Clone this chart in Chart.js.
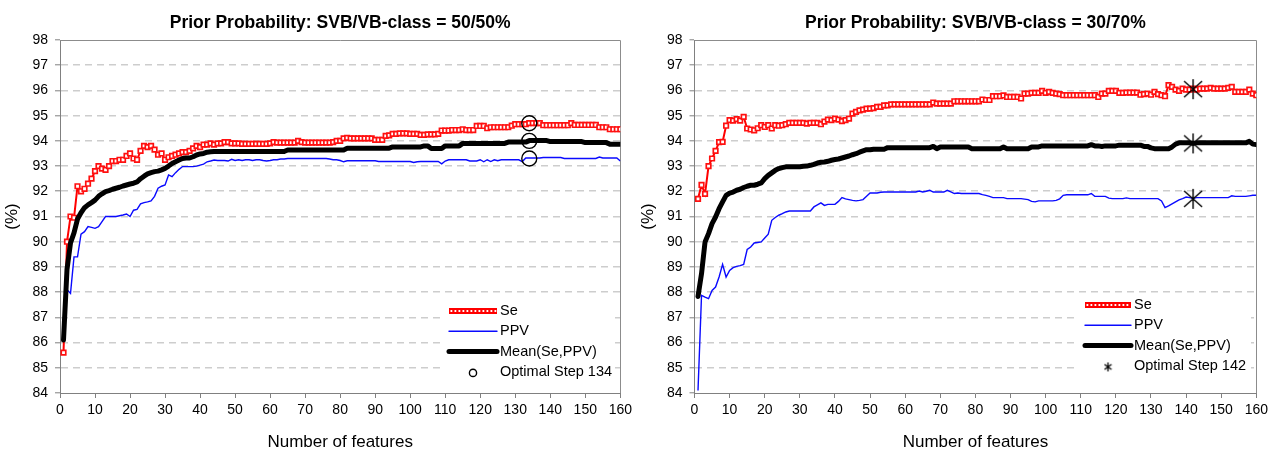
<!DOCTYPE html>
<html><head><meta charset="utf-8">
<script src="https://cdn.jsdelivr.net/npm/chart.js@4/dist/chart.umd.min.js"></script>
<style>
html,body{margin:0;padding:0;background:#fff;}
#wrap{position:relative;width:1272px;height:451px;overflow:hidden;background:#fff;}
.box{position:absolute;top:0;width:636px;height:451px;}
canvas{display:block;}
</style></head><body>
<div id="wrap">
<div class="box" style="left:0"><canvas id="c1" width="636" height="451"></canvas></div>
<div class="box" style="left:636px"><canvas id="c2" width="636" height="451"></canvas></div>
</div>
<script>
// ---------- DATA ----------
const titleL = 'Prior Probability: SVB/VB-class = 50/50%';
const titleR = 'Prior Probability: SVB/VB-class = 30/70%';
const xTitle = 'Number of features';
const yTitle = '(%)';
const seriesNames = ['Se', 'PPV', 'Mean(Se,PPV)'];

// x categories: number of features 1..160
const features = Array.from({length: 160}, (_, i) => i + 1);

const seL = [
85.6,90.0,91.0,90.95,92.2,92.0,92.1,92.3,92.5,92.8,
93.0,92.9,92.85,93.0,93.2,93.2,93.25,93.25,93.4,93.5,
93.3,93.25,93.6,93.8,93.75,93.8,93.65,93.45,93.5,93.25,
93.35,93.4,93.45,93.5,93.55,93.55,93.6,93.7,93.8,93.75,
93.85,93.85,93.9,93.85,93.9,93.9,93.95,93.95,93.9,93.9,
93.9,93.88,93.88,93.88,93.88,93.88,93.88,93.88,93.88,93.9,
93.95,93.93,93.93,93.93,93.93,93.93,93.93,94.0,93.95,93.93,
93.93,93.93,93.93,93.93,93.93,93.93,93.93,93.95,94.0,94.0,
94.1,94.12,94.1,94.1,94.1,94.1,94.1,94.1,94.1,94.04,
94.04,94.04,94.2,94.22,94.28,94.28,94.3,94.3,94.3,94.28,
94.28,94.28,94.24,94.24,94.26,94.26,94.26,94.28,94.41,94.41,
94.41,94.43,94.43,94.43,94.46,94.43,94.43,94.43,94.59,94.59,
94.59,94.5,94.54,94.54,94.54,94.54,94.54,94.54,94.6,94.66,
94.66,94.66,94.66,94.7,94.7,94.7,94.7,94.62,94.62,94.62,
94.62,94.62,94.62,94.62,94.62,94.7,94.63,94.63,94.63,94.63,
94.63,94.63,94.63,94.54,94.54,94.54,94.46,94.46,94.46,94.46];

const ppvL = [
86.6,88.1,87.95,89.4,89.4,90.3,90.4,90.6,90.57,90.53,
90.6,90.8,91.0,91.0,91.0,91.0,91.03,91.06,91.1,91.0,
91.25,91.28,91.5,91.55,91.58,91.62,91.8,92.12,92.2,92.25,
92.65,92.58,92.74,92.87,92.98,92.98,92.98,92.98,93.0,93.04,
93.08,93.17,93.2,93.24,93.22,93.22,93.22,93.2,93.27,93.22,
93.25,93.22,93.25,93.25,93.22,93.25,93.25,93.22,93.2,93.22,
93.25,93.25,93.28,93.28,93.3,93.3,93.3,93.3,93.3,93.3,
93.3,93.3,93.3,93.3,93.3,93.3,93.28,93.25,93.25,93.22,
93.17,93.21,93.21,93.21,93.21,93.21,93.21,93.21,93.21,93.21,
93.18,93.18,93.18,93.18,93.18,93.18,93.18,93.18,93.18,93.18,
93.14,93.17,93.18,93.18,93.18,93.18,93.18,93.18,93.09,93.2,
93.25,93.25,93.25,93.25,93.25,93.25,93.2,93.2,93.2,93.25,
93.17,93.25,93.18,93.25,93.21,93.25,93.25,93.25,93.25,93.25,
93.25,93.18,93.32,93.32,93.32,93.32,93.32,93.34,93.34,93.34,
93.34,93.34,93.34,93.3,93.3,93.3,93.3,93.3,93.3,93.3,
93.3,93.3,93.3,93.36,93.32,93.32,93.32,93.32,93.32,93.2];

const meanL = [
86.1,88.9,89.95,90.35,90.9,91.15,91.35,91.46,91.55,91.65,
91.8,91.9,91.99,92.03,92.08,92.12,92.16,92.21,92.25,92.29,
92.32,92.37,92.5,92.6,92.69,92.74,92.78,92.8,92.85,92.91,
93.0,93.1,93.17,93.24,93.3,93.32,93.32,93.37,93.44,93.48,
93.5,93.55,93.57,93.58,93.58,93.58,93.58,93.58,93.58,93.58,
93.58,93.58,93.58,93.58,93.58,93.58,93.58,93.58,93.58,93.58,
93.58,93.58,93.58,93.58,93.64,93.64,93.64,93.64,93.64,93.64,
93.64,93.64,93.64,93.64,93.64,93.64,93.64,93.64,93.64,93.64,
93.64,93.71,93.71,93.71,93.71,93.71,93.71,93.71,93.71,93.71,
93.71,93.71,93.71,93.71,93.76,93.76,93.76,93.76,93.76,93.76,
93.76,93.76,93.76,93.8,93.8,93.7,93.7,93.7,93.7,93.8,
93.8,93.8,93.8,93.8,93.9,93.9,93.9,93.9,93.9,93.9,
93.9,93.9,93.9,93.9,93.9,93.9,93.9,93.95,93.95,93.95,
93.95,93.95,93.95,94.01,94.01,94.01,94.01,94.01,94.01,93.97,
93.97,93.97,93.97,93.97,93.97,93.97,93.97,93.97,93.97,93.93,
93.93,93.93,93.93,93.93,93.93,93.93,93.87,93.87,93.87,93.87];

const optStepL = 134;
const optL = [94.7, 94.0, 93.3];

const seR = [
91.7,92.25,91.9,93.0,93.3,93.6,93.95,93.96,94.6,94.82,
94.8,94.86,94.8,94.95,94.49,94.45,94.42,94.5,94.62,94.55,
94.62,94.49,94.62,94.6,94.62,94.66,94.71,94.71,94.71,94.71,
94.71,94.68,94.71,94.71,94.71,94.66,94.76,94.84,94.82,94.88,
94.84,94.78,94.82,94.88,95.08,95.15,95.21,95.24,95.28,95.28,
95.3,95.35,95.35,95.41,95.41,95.45,95.45,95.45,95.45,95.45,
95.45,95.45,95.45,95.45,95.45,95.45,95.45,95.52,95.48,95.48,
95.48,95.48,95.48,95.57,95.57,95.57,95.57,95.57,95.57,95.57,
95.57,95.64,95.62,95.62,95.77,95.77,95.77,95.8,95.74,95.74,
95.74,95.74,95.68,95.87,95.87,95.9,95.9,95.9,95.98,95.9,
95.94,95.9,95.87,95.85,95.81,95.81,95.81,95.81,95.81,95.81,
95.81,95.81,95.81,95.81,95.74,95.87,95.87,95.98,95.98,95.98,
95.9,95.9,95.91,95.91,95.91,95.91,95.83,95.85,95.87,95.83,
95.94,95.85,95.81,95.77,96.21,96.14,96.03,95.98,96.07,96.03,
96.03,96.07,96.03,96.07,96.07,96.07,96.1,96.07,96.07,96.07,
96.07,96.1,96.14,95.94,95.94,95.94,95.94,96.03,95.87,95.81];

const ppvR = [
84.1,87.87,87.8,87.74,88.07,88.2,88.6,89.1,88.6,88.86,
88.97,89.02,89.05,89.1,89.69,89.79,89.95,89.97,89.99,90.15,
90.3,90.85,90.96,91.05,91.11,91.18,91.22,91.22,91.22,91.22,
91.22,91.22,91.22,91.38,91.46,91.54,91.44,91.48,91.48,91.48,
91.6,91.75,91.7,91.67,91.64,91.62,91.64,91.67,91.8,91.93,
91.93,91.93,91.96,91.97,91.97,91.97,91.97,91.97,91.97,91.97,
91.97,91.97,91.97,92.01,91.97,92.0,92.04,91.97,91.97,91.97,
91.97,92.04,91.98,91.91,91.93,91.91,91.91,91.91,91.91,91.91,
91.91,91.87,91.84,91.8,91.75,91.75,91.75,91.75,91.71,91.71,
91.71,91.71,91.71,91.69,91.67,91.6,91.58,91.62,91.62,91.62,
91.62,91.62,91.64,91.7,91.84,91.86,91.86,91.86,91.86,91.86,
91.86,91.86,91.91,91.8,91.8,91.8,91.8,91.73,91.71,91.71,
91.71,91.71,91.74,91.71,91.71,91.71,91.71,91.71,91.71,91.71,
91.71,91.71,91.62,91.35,91.42,91.5,91.58,91.66,91.71,91.77,
91.75,91.72,91.75,91.75,91.75,91.75,91.75,91.75,91.75,91.75,
91.75,91.75,91.82,91.8,91.8,91.8,91.8,91.82,91.84,91.84];

const meanR = [
87.83,88.73,89.99,90.32,90.72,90.98,91.31,91.58,91.84,91.93,
91.97,92.04,92.08,92.15,92.2,92.24,92.24,92.28,92.33,92.5,
92.63,92.73,92.83,92.9,92.94,92.97,92.97,92.97,92.97,92.97,
92.99,93.0,93.03,93.07,93.12,93.15,93.16,93.19,93.23,93.26,
93.28,93.32,93.36,93.4,93.45,93.49,93.55,93.6,93.65,93.65,
93.67,93.67,93.67,93.67,93.73,93.73,93.73,93.73,93.73,93.73,
93.73,93.73,93.73,93.73,93.73,93.73,93.73,93.78,93.69,93.76,
93.76,93.76,93.76,93.76,93.76,93.76,93.76,93.76,93.69,93.69,
93.69,93.69,93.69,93.69,93.69,93.69,93.69,93.76,93.69,93.69,
93.69,93.69,93.69,93.69,93.69,93.76,93.76,93.76,93.8,93.8,
93.8,93.8,93.8,93.8,93.8,93.8,93.8,93.8,93.8,93.8,
93.8,93.8,93.85,93.8,93.8,93.78,93.8,93.8,93.8,93.8,
93.83,93.83,93.83,93.83,93.83,93.83,93.83,93.78,93.78,93.72,
93.69,93.69,93.69,93.69,93.69,93.76,93.87,93.92,93.92,93.92,
93.92,93.9,93.92,93.92,93.92,93.92,93.92,93.92,93.92,93.92,
93.92,93.92,93.92,93.92,93.92,93.92,93.92,93.98,93.87,93.85];

const optStepR = 142;
const optR = [96.05, 93.9, 91.7];

// ---------- DRAWING ----------
Chart.defaults.font.family = "'Liberation Sans', Arial, sans-serif";
Chart.defaults.color = '#000';

function toXY(arr){ return arr.map((v, i) => ({x: features[i], y: v})); }

function makeAsterisk(w, h, lw){
  const c = document.createElement('canvas');
  c.width = w; c.height = h;
  const g = c.getContext('2d');
  g.strokeStyle = '#000'; g.lineWidth = lw;
  const mx = w/2, my = h/2;
  g.beginPath();
  g.moveTo(mx, 1); g.lineTo(mx, h-1);
  g.moveTo(1, my - (h/2 - 3)); g.lineTo(w-1, my + (h/2 - 3));
  g.moveTo(1, my + (h/2 - 3)); g.lineTo(w-1, my - (h/2 - 3));
  g.stroke();
  return c;
}
const asteriskBig = makeAsterisk(20, 22, 1.4);
const asteriskSmall = makeAsterisk(9, 11, 1.3);

const framePlugin = {
  id: 'frame',
  beforeDatasetsDraw(chart){
    const {ctx, chartArea: a} = chart;
    ctx.save();
    ctx.strokeStyle = '#8c8c8c'; ctx.lineWidth = 1;
    ctx.beginPath();
    ctx.moveTo(a.left, Math.round(a.top) + 0.5);
    ctx.lineTo(Math.round(a.right) + 0.5, Math.round(a.top) + 0.5);
    ctx.lineTo(Math.round(a.right) + 0.5, a.bottom);
    ctx.stroke();
    ctx.restore();
  }
};

const insideLegend = {
  id: 'insideLegend',
  afterDatasetsDraw(chart, args, o){
    const ctx = chart.ctx;
    const a = chart.chartArea;
    ctx.save();
    ctx.fillStyle = '#fff';
    ctx.fillRect(o.boxX, o.boxY, o.boxW, a.bottom - o.boxY - 1);
    const ds = chart.data.datasets;
    ctx.font = '14.5px "Liberation Sans", Arial, sans-serif';
    ctx.textBaseline = 'middle';
    ds.forEach((d, i) => {
      const y = o.y0 + i * o.dy;
      if (d.legendKind === 'se') {
        ctx.fillStyle = '#ff0000';
        ctx.fillRect(o.x1, y - 3, o.x2 - o.x1, 6);
        ctx.fillStyle = '#fff';
        for (let x = o.x1 + 1.5; x < o.x2 - 2; x += 4) ctx.fillRect(x, y - 1, 1.8, 2);
      } else if (d.legendKind === 'line') {
        ctx.strokeStyle = d.borderColor; ctx.lineWidth = d.borderWidth;
        ctx.lineCap = 'round';
        ctx.beginPath(); ctx.moveTo(o.x1, y); ctx.lineTo(o.x2, y); ctx.stroke();
      } else if (d.legendKind === 'circle') {
        ctx.strokeStyle = '#000'; ctx.lineWidth = 1.4;
        ctx.beginPath(); ctx.arc(o.mx, y + 1, 3.6, 0, Math.PI * 2); ctx.stroke();
      } else if (d.legendKind === 'asterisk') {
        ctx.drawImage(asteriskSmall, o.mx - 4.5, y - 4.5);
      }
      ctx.fillStyle = '#000';
      ctx.fillText(d.label, o.tx, y);
    });
    ctx.restore();
  }
};

function buildChart(id, c){
  const datasets = [
    {label: seriesNames[0], legendKind: 'se', data: toXY(c.se), borderColor: '#ff0000', borderWidth: 2,
     pointStyle: 'rect', pointRadius: 3.2, pointBorderWidth: 1.7, pointBorderColor: '#ff1010',
     pointBackgroundColor: '#ffffff', order: 4},
    {label: seriesNames[1], legendKind: 'line', data: toXY(c.ppv), borderColor: '#0a0aff', borderWidth: 1.4,
     pointRadius: 0, order: 3},
    {label: seriesNames[2], legendKind: 'line', data: toXY(c.mean), borderColor: '#000000', borderWidth: 5,
     borderJoinStyle: 'round', borderCapStyle: 'round', pointRadius: 0, order: 2},
    {label: 'Optimal Step ' + c.optStep, legendKind: c.markerKind, showLine: false,
     data: c.opt.map(v => ({x: c.optStep, y: v})),
     pointStyle: c.markerKind === 'circle' ? 'circle' : asteriskBig,
     pointRadius: 7.5, pointBorderColor: '#000', pointBorderWidth: 1.4,
     pointBackgroundColor: 'rgba(0,0,0,0)', borderColor: '#000', order: 1}
  ];
  return new Chart(document.getElementById(id), {
    type: 'line',
    data: {datasets},
    options: {
      responsive: false, animation: false, devicePixelRatio: 1,
      layout: {padding: {left: 0, right: c.padRight, top: 0, bottom: 0}},
      elements: {line: {tension: 0}},
      plugins: {
        legend: {display: false}, tooltip: {enabled: false},
        title: {display: true, text: c.title, fullSize: false, color: '#000',
                font: {size: 17.5, weight: 'bold'}, padding: {top: 13, bottom: 6}},
        insideLegend: c.legend
      },
      scales: {
        x: {type: 'linear', min: 0, max: 160,
            ticks: {stepSize: 10, autoSkip: false, maxRotation: 0, color: '#000', font: {size: 14}, padding: 4},
            grid: {drawOnChartArea: false, drawTicks: true, tickLength: 5, tickColor: '#808080', tickWidth: 1},
            border: {display: true, color: '#808080', width: 1},
            title: {display: true, text: xTitle, color: '#000', font: {size: 17, lineHeight: 1.0}, padding: {top: 0, bottom: 0}},
            afterFit(s){ s.height = 58; }},
        y: {min: 84, max: 98,
            ticks: {stepSize: 1, color: '#000', font: {size: 14}, padding: 7},
            grid: {color: (ctx) => (ctx.tick && (ctx.tick.value === 84 || ctx.tick.value === 98)) ? 'rgba(0,0,0,0)' : '#cdcdcd',
                   lineWidth: 1.6, tickLength: 5, tickColor: '#808080', tickWidth: 1},
            border: {display: true, color: '#808080', width: 1, dash: [7, 5]},
            title: {display: true, text: yTitle, color: '#000', font: {size: 17}, padding: {top: 2, bottom: 0}},
            afterFit(s){ s.width = c.yWidth; }}
      }
    },
    plugins: [framePlugin, insideLegend]
  });
}

buildChart('c1', {title: titleL, se: seL, ppv: ppvL, mean: meanL, opt: optL, optStep: optStepL,
  markerKind: 'circle', yWidth: 60, padRight: 14,
  legend: {boxX: 443, boxY: 299, boxW: 172, x1: 449, x2: 497, tx: 500, mx: 473, y0: 311, dy: 20.3}});
buildChart('c2', {title: titleR, se: seR, ppv: ppvR, mean: meanR, opt: optR, optStep: optStepR,
  markerKind: 'asterisk', yWidth: 58.5, padRight: 14,
  legend: {boxX: 443, boxY: 294, boxW: 172, x1: 449, x2: 495, tx: 498, mx: 472, y0: 305, dy: 20.3}});
</script>
</body></html>
